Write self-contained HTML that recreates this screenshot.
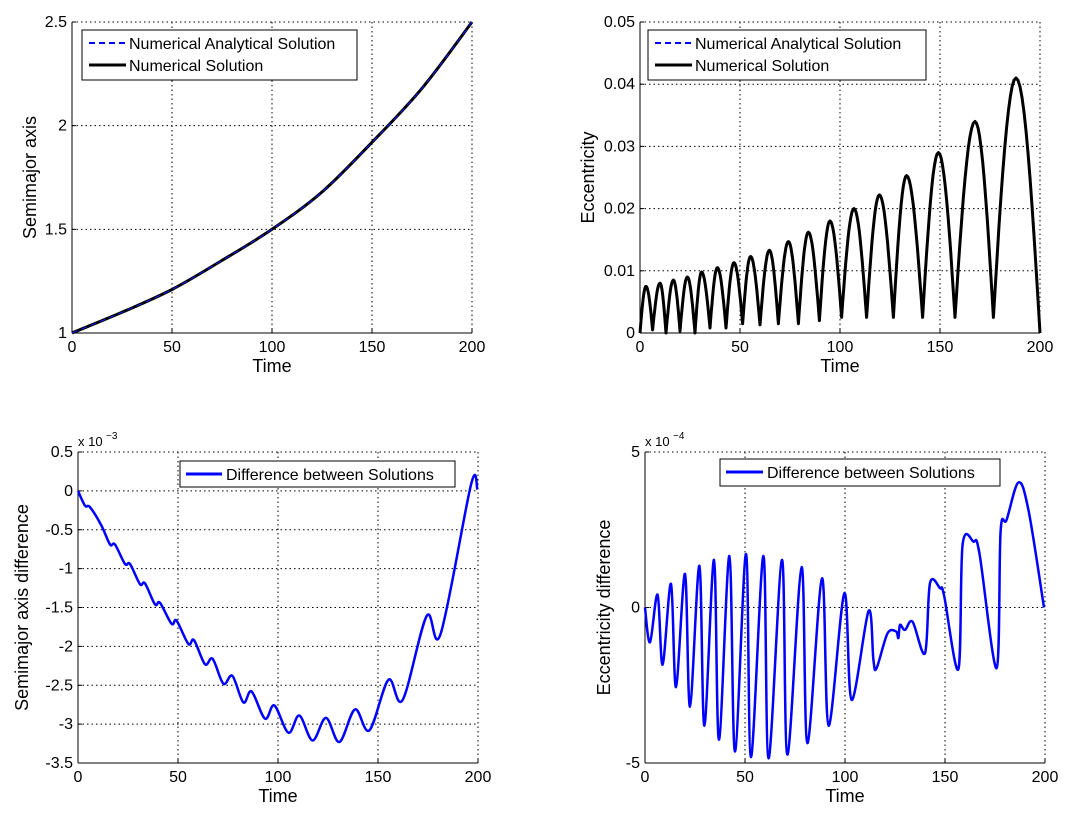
<!DOCTYPE html>
<html><head><meta charset="utf-8"><style>
html,body{margin:0;padding:0;background:#fff;}
svg{display:block;font-family:"Liberation Sans",Arial,sans-serif;}
</style></head><body>
<svg id="chart" width="1067" height="815" viewBox="0 0 1067 815"></svg>
<script>
// ---- data ----
const semiT=[0,25,50,75,100,125,150,175,200];
const semiV=[1,1.1,1.21,1.35,1.5,1.68,1.92,2.18,2.5];
const eccMinT=[0,6.3,13,20,27.5,35,43,51.3,60,69.2,79.2,89.7,100.8,113.3,126.7,141.3,157.5,176.7,200];
const eccMinV=[0,0.0005,0,0.0003,0,0.0008,0.0008,0.0015,0.0013,0.0015,0.0015,0.002,0.0025,0.0025,0.0025,0.0025,0.0025,0.0025,0];
const eccPeakT=[3,10,16.7,23.7,30.8,38.7,47,55.3,64.7,74.2,84.2,95,107,119.7,133.3,149.2,167.5,188];
const eccPeakV=[0.0075,0.008,0.0085,0.009,0.0098,0.0105,0.0113,0.0123,0.0133,0.0147,0.0162,0.018,0.02,0.0222,0.0253,0.029,0.034,0.041];
const daT=[0,3.5,6,11.8,16,18.5,23.5,26,31,33.5,38.5,41,46.8,49.3,55.2,58,63.5,67.3,72.7,77.2,82.7,86.8,93.5,98.2,105.2,110.7,117.3,124,130.7,138.5,145.7,155.2,162.3,174.3,181.3,196.5,199.7];
const daV=[0,-0.19,-0.21,-0.45,-0.69,-0.69,-0.94,-0.94,-1.2,-1.19,-1.46,-1.44,-1.71,-1.67,-1.97,-1.92,-2.23,-2.16,-2.48,-2.38,-2.72,-2.58,-2.93,-2.76,-3.11,-2.89,-3.21,-2.92,-3.23,-2.81,-3.08,-2.43,-2.69,-1.61,-1.84,0.08,0.02];
const deT=[0,2.5,6.3,8.8,13,15.5,20,22.5,27.2,29.7,34.5,37,42.2,45,50.5,53,59.2,61.8,68.5,71.2,78.3,81.2,88.5,91.8,99.7,103.3,111.8,114.2,115.8,121.2,125.5,126.7,127.5,130,133.8,140,142.5,147.5,149.5,156.7,158.8,164.2,167.2,175.8,177.8,180.8,186.7,191.7,199.5];
const deV=[0,-1.12,0.41,-1.84,0.76,-2.56,1.08,-3.19,1.34,-3.8,1.53,-4.25,1.66,-4.63,1.72,-4.81,1.66,-4.85,1.53,-4.73,1.3,-4.36,0.94,-3.8,0.46,-2.97,-0.11,-1.68,-1.95,-0.84,-0.77,-0.98,-0.56,-0.72,-0.46,-1.47,0.78,0.62,0.4,-1.98,2.02,2.12,1.75,-1.95,2.45,2.82,4.02,3.14,0];
const xTicks=[0,50,100,150,200];
const yTicksA=[1,1.5,2,2.5]; const yLabA=['1','1.5','2','2.5'];
const yTicksB=[0,0.01,0.02,0.03,0.04,0.05]; const yLabB=['0','0.01','0.02','0.03','0.04','0.05'];
const yTicksC=[0.5,0,-0.5,-1,-1.5,-2,-2.5,-3,-3.5]; const yLabC=['0.5','0','-0.5','-1','-1.5','-2','-2.5','-3','-3.5'];
const yTicksD=[5,0,-5]; const yLabD=['5','0','-5'];

const NS='http://www.w3.org/2000/svg';
const svg=document.getElementById('chart');
function el(tag,attrs,parent){const e=document.createElementNS(NS,tag);for(const k in attrs)e.setAttribute(k,attrs[k]);(parent||svg).appendChild(e);return e;}
function txt(s,attrs,parent){const e=el('text',attrs,parent);e.textContent=s;return e;}

function catmull(pts){
  let d='M'+pts[0][0].toFixed(1)+','+pts[0][1].toFixed(1);
  for(let i=0;i<pts.length-1;i++){
    const p0=pts[Math.max(0,i-1)],p1=pts[i],p2=pts[i+1],p3=pts[Math.min(pts.length-1,i+2)];
    const c1=[p1[0]+(p2[0]-p0[0])/6,p1[1]+(p2[1]-p0[1])/6];
    const c2=[p2[0]-(p3[0]-p1[0])/6,p2[1]-(p3[1]-p1[1])/6];
    d+=' C'+c1.map(v=>v.toFixed(1))+' '+c2.map(v=>v.toFixed(1))+' '+p2[0].toFixed(1)+','+p2[1].toFixed(1);
  }
  return d;
}

function axes(name,L,R,T,B,ymin,ymax,yt,yl,ylabel,ylabX){
  const g=el('g',{});
  
  
  const sx=t=>L+(t-0)/200*(R-L);
  const sy=v=>B-(v-ymin)/(ymax-ymin)*(B-T);
  xTicks.forEach(t=>{ if(t>0) el('line',{x1:sx(t),x2:sx(t),y1:T,y2:B,stroke:'#000','stroke-width':1,'stroke-dasharray':'1.5,3'},g);});
  yt.forEach(v=>{ if(sy(v)<B-1) el('line',{x1:L,x2:R,y1:sy(v),y2:sy(v),stroke:'#000','stroke-width':1,'stroke-dasharray':'1.5,3'},g);});
  el('line',{x1:L,x2:L,y1:T,y2:B,stroke:'#000','stroke-width':1},g);
  el('line',{x1:L,x2:R,y1:B,y2:B,stroke:'#000','stroke-width':1},g);
  xTicks.forEach(t=>{
    el('line',{x1:sx(t),x2:sx(t),y1:B,y2:B-4,stroke:'#000'},g);
    const tl=txt(String(t),{x:sx(t),y:B+19,'font-size':16,'text-anchor':'middle'},g);
    
    
  });
  yt.forEach((v,i)=>{
    el('line',{x1:L,x2:L+4,y1:sy(v),y2:sy(v),stroke:'#000'},g);
    const tl=txt(yl[i],{x:L-5,y:sy(v)+5,'font-size':16,'text-anchor':'end'},g);
    
    
  });
  const xt=txt('Time',{x:(L+R)/2,y:B+39,'font-size':18,'text-anchor':'middle'},g);
  
  
  const yc=(T+B)/2;
  const ytl=txt(ylabel,{x:ylabX,y:yc,'font-size':18,'text-anchor':'middle',transform:'rotate(-90 '+ylabX+' '+yc+')'},g);
  
  
  return {g,sx,sy};
}

function legend(parent,x,y,w,items){
  const h=items.length*24+2;
  const lg=el('g',{},parent);
  
  
  el('rect',{x:x,y:y,width:w,height:h,fill:'#fff',stroke:'#000','stroke-width':1},lg);
  items.forEach((it,i)=>{
    const cy=y+13+i*22;
    const e=el('g',{},lg);
    
    
    el('line',{x1:x+7,x2:x+44,y1:cy,y2:cy,stroke:it.c,'stroke-width':it.w,'stroke-dasharray':it.d||'none'},e);
    txt(it.t,{x:x+47,y:cy+6,'font-size':16},e);
  });
}

{
  const a=axes('semimajor-axis-plot',72,472,22,333,1,2.5,yTicksA,yLabA,'Semimajor axis',36);
  const pts=semiT.map((t,i)=>[a.sx(t),a.sy(semiV[i])]);
  const d=catmull(pts);
  const p1=el('path',{d:d,fill:'none',stroke:'#000','stroke-width':3},a.g);
  
  
  const p2=el('path',{d:d,fill:'none',stroke:'#1a1aff','stroke-width':1,'stroke-dasharray':'6,4'},a.g);
  
  
  legend(a.g,82,30,275,[{t:'Numerical Analytical Solution',c:'#0000ff',w:2,d:'6,4'},{t:'Numerical Solution',c:'#000',w:3}]);
}
{
  const b=axes('eccentricity-plot',640,1040,22,333,0,0.05,yTicksB,yLabB,'Eccentricity',594);
  const pts=[];
  for(let k=0;k<eccPeakT.length;k++){
    const m0t=eccMinT[k],m0v=eccMinV[k],m1t=eccMinT[k+1],m1v=eccMinV[k+1],pt=eccPeakT[k],pv=eccPeakV[k];
    for(let j=0;j<=12;j++){const f=j/12;const t=m0t+(pt-m0t)*f;const v=m0v+(pv-m0v)*Math.sin(f*Math.PI/2);pts.push([b.sx(t),b.sy(v)]);}
    for(let j=1;j<=12;j++){const f=j/12;const t=pt+(m1t-pt)*f;const v=m1v+(pv-m1v)*Math.cos(f*Math.PI/2);pts.push([b.sx(t),b.sy(v)]);}
  }
  const d='M'+pts.map(p=>p[0].toFixed(1)+','+p[1].toFixed(1)).join(' L');
  const p1=el('path',{d:d,fill:'none',stroke:'#000','stroke-width':3,'stroke-linejoin':'round'},b.g);
  
  
  legend(b.g,648,30,278,[{t:'Numerical Analytical Solution',c:'#0000ff',w:2,d:'6,4'},{t:'Numerical Solution',c:'#000',w:3}]);
}
{
  const c=axes('semimajor-difference-plot',78,478,452,763,-3.5,0.5,yTicksC,yLabC,'Semimajor axis difference',28);
  const pts=daT.map((t,i)=>[c.sx(t),c.sy(daV[i])]);
  const p=el('path',{d:catmull(pts),fill:'none',stroke:'#0000ff','stroke-width':2.5},c.g);
  
  
  const ex=txt('x 10',{x:78,y:446,'font-size':13},c.g);
  txt('−3',{x:106,y:439,'font-size':10},c.g);
  
  
  const lg=el('g',{},c.g);
  el('rect',{x:180,y:461,width:275,height:26,fill:'#fff',stroke:'#000'},lg);
  el('line',{x1:186,x2:222,y1:474,y2:474,stroke:'#0000ff','stroke-width':3},lg);
  txt('Difference between Solutions',{x:226,y:480,'font-size':16},lg);
  
  
}
{
  const e=axes('eccentricity-difference-plot',645,1045,452,763,-5,5,yTicksD,yLabD,'Eccentricity difference',610);
  const pts=deT.map((t,i)=>[e.sx(t),e.sy(deV[i])]);
  const p=el('path',{d:catmull(pts),fill:'none',stroke:'#0000ff','stroke-width':2.5},e.g);
  
  
  const ex=txt('x 10',{x:645,y:446,'font-size':13},e.g);
  txt('−4',{x:673,y:439,'font-size':10},e.g);
  
  
  const lg=el('g',{},e.g);
  el('rect',{x:720,y:459,width:280,height:27,fill:'#fff',stroke:'#000'},lg);
  el('line',{x1:726,x2:763,y1:472,y2:472,stroke:'#0000ff','stroke-width':3},lg);
  txt('Difference between Solutions',{x:767,y:478,'font-size':16},lg);
  
  
}
</script>
</body></html>
